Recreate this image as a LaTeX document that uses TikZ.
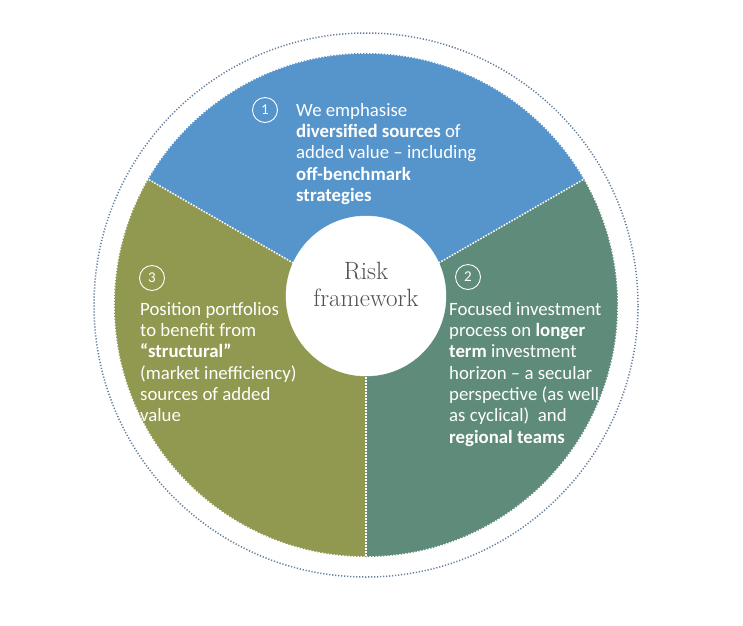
\documentclass[tikz,border=0pt]{standalone}
\usepackage{fontspec}
\newfontfamily\calibri{Carlito}
\usetikzlibrary{math}
\definecolor{riskblue}{RGB}{86,148,204}
\definecolor{riskgreen}{RGB}{94,139,122}
\definecolor{riskolive}{RGB}{145,152,79}
\definecolor{ringgray}{RGB}{100,125,152}
\definecolor{centergray}{RGB}{80,80,80}
\tikzset{
  sectortext/.style={anchor=north west, inner sep=0pt, align=left, text=white,
    font=\calibri\fontsize{18.8}{21.3}\selectfont},
  numcircle/.style={circle, draw=white, line width=0.9pt, minimum size=25pt,
    inner sep=0pt, text=white, font=\calibri\fontsize{15}{15}\selectfont},
  whitedots/.style={white, line width=1.5pt, dash pattern=on 1.5pt off 1.5pt},
}

\begin{document}
\begin{tikzpicture}[x=1pt,y=1pt]
\tikzmath{
\cx=366;
\cy=-305;
\R=252;
\Rring=272;
\rin=80;
}
\useasboundingbox (0,0) rectangle (743,-625);
%outer ring
\draw[ringgray, line width=1.5pt, dash pattern=on 1.2pt off 1.8pt] (\cx,\cy) circle (\Rring);
%sectors
\fill[riskblue] (\cx,\cy) -- ++(30:\R) arc (30:150:\R) -- cycle;
\fill[riskolive] (\cx,\cy) -- ++(150:\R) arc (150:270:\R) -- cycle;
\fill[riskgreen] (\cx,\cy) -- ++(270:\R) arc (270:390:\R) -- cycle;
\draw[whitedots] (\cx,\cy) circle (\R);
\draw[whitedots] (\cx,\cy) -- +(30:\R);
\draw[whitedots] (\cx,\cy) -- +(150:\R);
\draw[whitedots] (\cx,\cy) -- +(270:\R);

%centre
\node[circle, fill=white, draw=white, minimum size=2*\rin, inner sep=0pt] (core) at (\cx,-296) {};
\node[align=center, text=centergray, font=\fontsize{25}{27}\selectfont] (risk) at (\cx,-284) {Risk\\framework};

%numbers
\node[numcircle] (n1) at (265,-110) {1};
\node[numcircle] (n2) at (468,-277) {2};
\node[numcircle] (n3) at (152,-278) {3};

%texts
\node[sectortext] (t1) at (296,-103) {We emphasise\\\textbf{diversified sources} of\\added value – including\\\textbf{off-benchmark}\\\textbf{strategies}};
\node[sectortext] (t2) at (449,-302) {Focused investment\\process on \textbf{longer}\\\textbf{term} investment\\horizon – a secular\\perspective (as well\\as cyclical)~ and\\\textbf{regional teams}};
\node[sectortext] (t3) at (140,-302) {Position portfolios\\to benefit from\\\textbf{“structural”}\\(market inefficiency)\\sources of added\\value};
\end{tikzpicture}
\end{document}
